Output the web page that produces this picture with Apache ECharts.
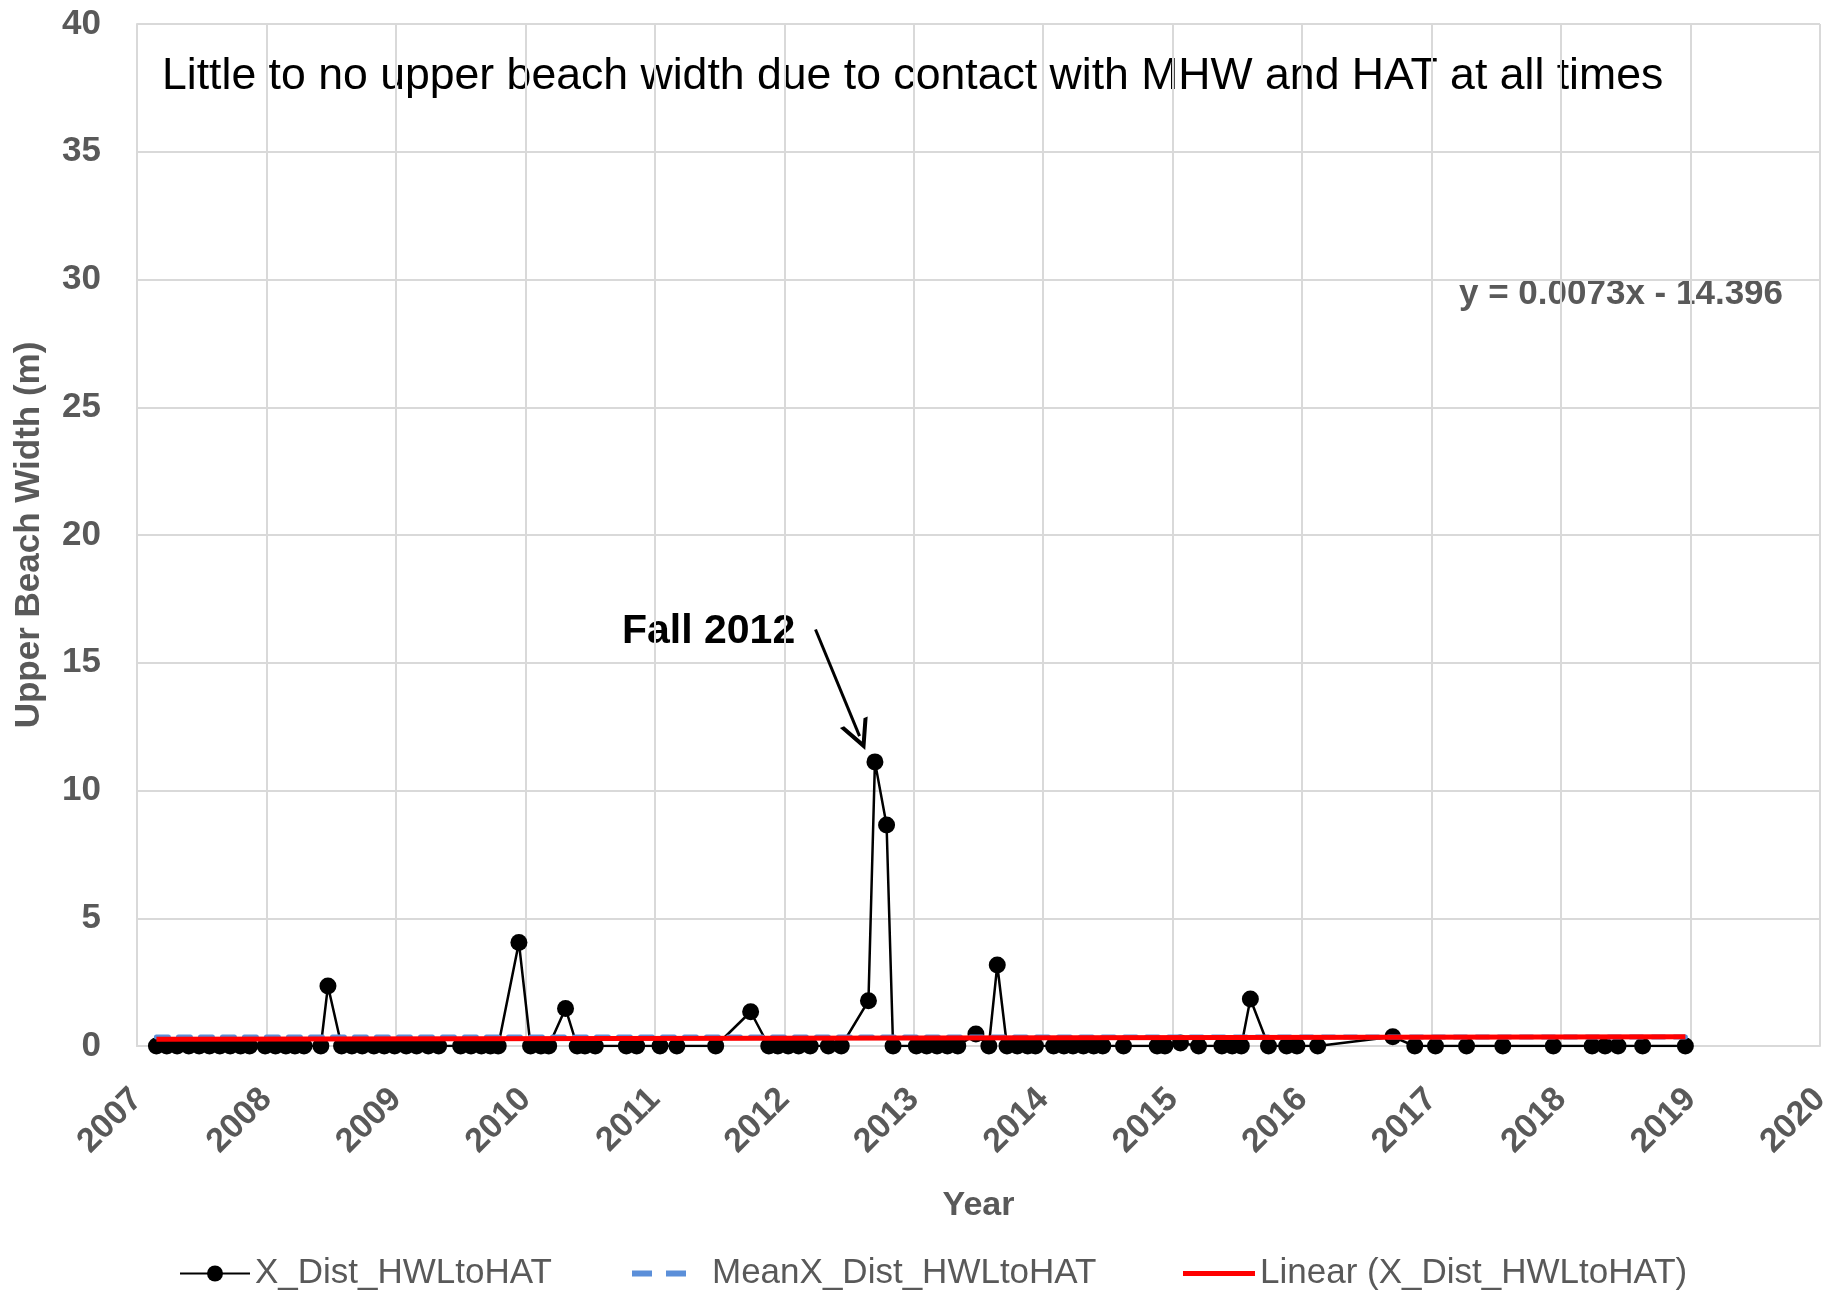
<!DOCTYPE html>
<html>
<head>
<meta charset="utf-8">
<script src="https://cdn.jsdelivr.net/npm/echarts@6/dist/echarts.min.js"></script>
<style>
  html, body { margin: 0; padding: 0; background: #fff; }
  #chart { width: 1845px; height: 1298px; }
</style>
</head>
<body>
<div id="chart"></div>
<script>
// survey dates (decimal year) and upper beach width (m)
const years = [
  2007.15, 2007.23, 2007.31, 2007.40, 2007.48, 2007.56, 2007.64, 2007.72, 2007.80, 2007.87,
  2007.99, 2008.07, 2008.15, 2008.22, 2008.29, 2008.42, 2008.475,
  2008.58, 2008.66, 2008.74, 2008.83, 2008.91, 2008.99, 2009.08, 2009.16, 2009.25, 2009.33,
  2009.50, 2009.58, 2009.66, 2009.73, 2009.79, 2009.95,
  2010.04, 2010.12, 2010.18, 2010.31,
  2010.40, 2010.46, 2010.54,
  2010.78, 2010.86, 2011.04, 2011.17, 2011.47, 2011.74,
  2011.88, 2011.95, 2012.03, 2012.11, 2012.20, 2012.34, 2012.44,
  2012.65, 2012.70, 2012.79, 2012.84,
  2013.02, 2013.10, 2013.18, 2013.26, 2013.34,
  2013.48, 2013.58, 2013.645,
  2013.72, 2013.80, 2013.88, 2013.94,
  2014.08, 2014.16, 2014.23, 2014.31, 2014.39, 2014.46,
  2014.62, 2014.88, 2014.94, 2015.06, 2015.20,
  2015.38, 2015.46, 2015.53, 2015.60, 2015.74, 2015.88, 2015.96, 2016.12,
  2016.70, 2016.87, 2017.03, 2017.27, 2017.55, 2017.94, 2018.24, 2018.34, 2018.44, 2018.63, 2018.96
];
const widths = [
  0, 0, 0, 0, 0, 0, 0, 0, 0, 0,
  0, 0, 0, 0, 0, 0, 2.35,
  0, 0, 0, 0, 0, 0, 0, 0, 0, 0,
  0, 0, 0, 0, 0, 4.05,
  0, 0, 0, 1.47,
  0, 0, 0,
  0, 0, 0, 0, 0, 1.34,
  0, 0, 0, 0, 0, 0, 0,
  1.77, 11.12, 8.65, 0,
  0, 0, 0, 0, 0,
  0.47, 0, 3.17,
  0, 0, 0, 0,
  0, 0, 0, 0, 0, 0,
  0, 0, 0, 0.12, 0,
  0, 0, 0, 1.84, 0, 0, 0, 0,
  0.36, 0, 0, 0, 0, 0, 0, 0, 0, 0, 0
];
const meanLine = [[2007.15, 0.35], [2018.96, 0.35]];
const trendLine = [[2007.15, 0.26], [2018.96, 0.36]];
const arrowFrom = [2012.241, 16.30];
const arrowTo = [2012.581, 12.13];

const seriesNames = ['X_Dist_HWLtoHAT', 'MeanX_Dist_HWLtoHAT', 'Linear (X_Dist_HWLtoHAT)'];

let points = [];
for (let i = 0; i < years.length; i++) {
  points.push([years[i], widths[i]]);
}

const grey = '#595959';
const gridGrey = '#d9d9d9';
const blue = '#5b8fd9';
const chevron = 'path://M10,0 L20,20 L17,20 L10,6 L3,20 L0,20 Z';
const legendFont = { color: grey, fontSize: 35, fontFamily: 'Liberation Sans' };

let chart = echarts.init(document.getElementById('chart'));
chart.setOption({
  animation: false,
  backgroundColor: '#fff',
  grid: {
    left: 137, right: 25, top: 24, bottom: 252,
    outerBoundsMode: 'none'
  },
  xAxis: {
    type: 'value',
    min: 2007, max: 2020, interval: 1,
    name: 'Year',
    nameLocation: 'middle',
    nameGap: 143,
    nameTextStyle: { color: grey, fontSize: 34, fontWeight: 'bold', fontFamily: 'Liberation Sans' },
    axisLine: { show: true, lineStyle: { color: gridGrey, width: 2 } },
    axisTick: { show: false },
    splitLine: { show: true, lineStyle: { color: gridGrey, width: 2 } },
    axisLabel: {
      rotate: 45, margin: 48,
      color: grey, fontSize: 34, fontWeight: 'bold', fontFamily: 'Liberation Sans',
      formatter: v => String(v)
    }
  },
  yAxis: {
    type: 'value',
    min: 0, max: 40, interval: 5,
    name: 'Upper Beach Width (m)',
    nameLocation: 'middle',
    nameGap: 90,
    nameTextStyle: { color: grey, fontSize: 35, fontWeight: 'bold', fontFamily: 'Liberation Sans' },
    axisLine: { show: true, lineStyle: { color: gridGrey, width: 2 } },
    axisTick: { show: false },
    splitLine: { show: true, lineStyle: { color: gridGrey, width: 2 } },
    axisLabel: {
      margin: 36,
      color: grey, fontSize: 35, fontWeight: 'bold', fontFamily: 'Liberation Sans'
    }
  },
  legend: [
    {
      data: [seriesNames[0]], left: 179, top: 1256, padding: 0,
      itemWidth: 70, itemHeight: 20,
      textStyle: legendFont
    },
    {
      data: [{
        name: seriesNames[1],
        icon: 'path://M0,0 L20,0 L20,6 L0,6 Z M34,0 L54,0 L54,6 L34,6 Z'
      }],
      left: 632, top: 1256, padding: 0,
      itemWidth: 56, itemHeight: 6,
      textStyle: Object.assign({ padding: [0, 0, 0, 20] }, legendFont)
    },
    {
      data: [{ name: seriesNames[2], icon: 'rect' }],
      left: 1183, top: 1256, padding: 0,
      itemWidth: 72, itemHeight: 5,
      textStyle: legendFont
    }
  ],
  graphic: [
    {
      type: 'text', left: 162, top: 54,
      style: {
        text: 'Little to no upper beach width due to contact with MHW and HAT at all times',
        fill: '#000', font: '44.6px "Liberation Sans"'
      }
    },
    {
      type: 'text', left: 1459, top: 277,
      style: {
        text: 'y = 0.0073x - 14.396',
        fill: grey, font: 'bold 35px "Liberation Sans"'
      }
    },
    {
      type: 'text', left: 622, top: 611,
      style: {
        text: 'Fall 2012',
        fill: '#000', font: 'bold 41px "Liberation Sans"'
      }
    }
  ],
  series: [
    {
      name: seriesNames[0],
      type: 'line',
      data: points,
      z: 2,
      symbol: 'circle',
      symbolSize: 17,
      itemStyle: { color: '#000' },
      lineStyle: { color: '#000', width: 2.5 },
      markLine: {
        silent: true,
        animation: false,
        lineStyle: { color: '#000', width: 3, type: 'solid' },
        label: { show: false },
        data: [[
          { coord: arrowFrom, symbol: 'none' },
          { coord: arrowTo, symbol: chevron, symbolSize: [30, 30] }
        ]]
      }
    },
    {
      name: seriesNames[1],
      type: 'line',
      data: meanLine,
      z: 3,
      symbol: 'none',
      itemStyle: { color: blue },
      lineStyle: { color: blue, width: 5, type: [12, 10], cap: 'round' }
    },
    {
      name: seriesNames[2],
      type: 'line',
      data: trendLine,
      z: 4,
      symbol: 'none',
      itemStyle: { color: '#ff0000' },
      lineStyle: { color: '#ff0000', width: 5 }
    }
  ]
});
</script>
</body>
</html>
